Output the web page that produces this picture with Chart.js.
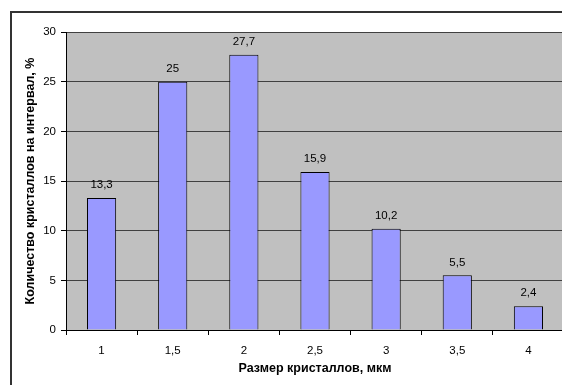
<!DOCTYPE html>
<html>
<head>
<meta charset="utf-8">
<script src="https://cdn.jsdelivr.net/npm/chart.js@4/dist/chart.umd.min.js"></script>
<style>
  html, body { margin: 0; padding: 0; background: #fff; overflow: hidden; }
  #wrap { position: absolute; left: 0; top: 0; width: 600px; height: 400px; }
</style>
</head>
<body>
<div id="wrap"><canvas id="c" width="600" height="400"></canvas></div>
<script>
// Crystal size distribution
const categories = ['1', '1,5', '2', '2,5', '3', '3,5', '4'];
const shares = [13.3, 25, 27.7, 15.9, 10.2, 5.5, 2.4];
const yTicks = [0, 5, 10, 15, 20, 25, 30];

const FONT = "'Liberation Sans', Arial, sans-serif";

// grey plot background and the outer chart frame
const backdrop = {
  id: 'backdrop',
  beforeDraw(chart) {
    const { ctx, chartArea: a } = chart;
    ctx.save();
    ctx.fillStyle = '#fff';
    ctx.fillRect(0, 0, chart.width, chart.height);
    ctx.strokeStyle = '#333';
    ctx.lineWidth = 2;
    ctx.strokeRect(11, 12, 575, 380);
    ctx.fillStyle = '#C0C0C0';
    ctx.fillRect(a.left, a.top, a.right - a.left, a.bottom - a.top);
    ctx.restore();
  }
};

// value labels above each bar, with decimal comma
const valueLabels = {
  id: 'valueLabels',
  afterDatasetsDraw(chart) {
    const { ctx } = chart;
    const meta = chart.getDatasetMeta(0);
    ctx.save();
    ctx.font = '11.5px ' + FONT;
    ctx.fillStyle = '#000';
    ctx.textAlign = 'center';
    ctx.textBaseline = 'middle';
    meta.data.forEach((bar, i) => {
      const txt = String(shares[i]).replace('.', ',');
      ctx.fillText(txt, bar.x, bar.y - 13);
    });
    ctx.restore();
  }
};

new Chart(document.getElementById('c'), {
  type: 'bar',
  data: {
    labels: categories,
    datasets: [{
      data: shares,
      backgroundColor: '#9999FF',
      borderColor: '#000',
      borderWidth: 1,
      barPercentage: 0.41,
      categoryPercentage: 1
    }]
  },
  options: {
    responsive: false,
    animation: false,
    devicePixelRatio: 1,
    layout: { padding: { left: 20, top: 32, right: 36, bottom: 24 } },
    plugins: {
      legend: { display: false },
      tooltip: { enabled: false }
    },
    scales: {
      x: {
        grid: {
          offset: true,
          drawOnChartArea: false,
          drawTicks: true,
          tickLength: 5,
          color: '#000'
        },
        border: { color: '#000', width: 1 },
        ticks: { color: '#000', font: { family: FONT, size: 11.5 }, padding: 9, maxRotation: 0 },
        title: {
          display: true,
          text: 'Размер кристаллов, мкм',
          color: '#000',
          font: { family: FONT, size: 12.5, weight: 'bold' },
          padding: { top: 4, bottom: 0 }
        },
        afterFit(s) { s.height = 46; }
      },
      y: {
        min: 0,
        max: 30,
        afterBuildTicks(s) { s.ticks = yTicks.map(v => ({ value: v })); },
        grid: {
          color: '#404040',
          lineWidth: 1,
          tickLength: 5,
          tickColor: '#000'
        },
        border: { color: '#000', width: 1 },
        ticks: { color: '#000', font: { family: FONT, size: 11.5 }, padding: 5 },
        title: {
          display: true,
          text: 'Количество кристаллов на интервал, %',
          color: '#000',
          font: { family: FONT, size: 12.5, weight: 'bold' },
          padding: { top: 3, bottom: 4 }
        },
        afterFit(s) { s.width = 46; }
      }
    }
  },
  plugins: [backdrop, valueLabels]
});
</script>
</body>
</html>
